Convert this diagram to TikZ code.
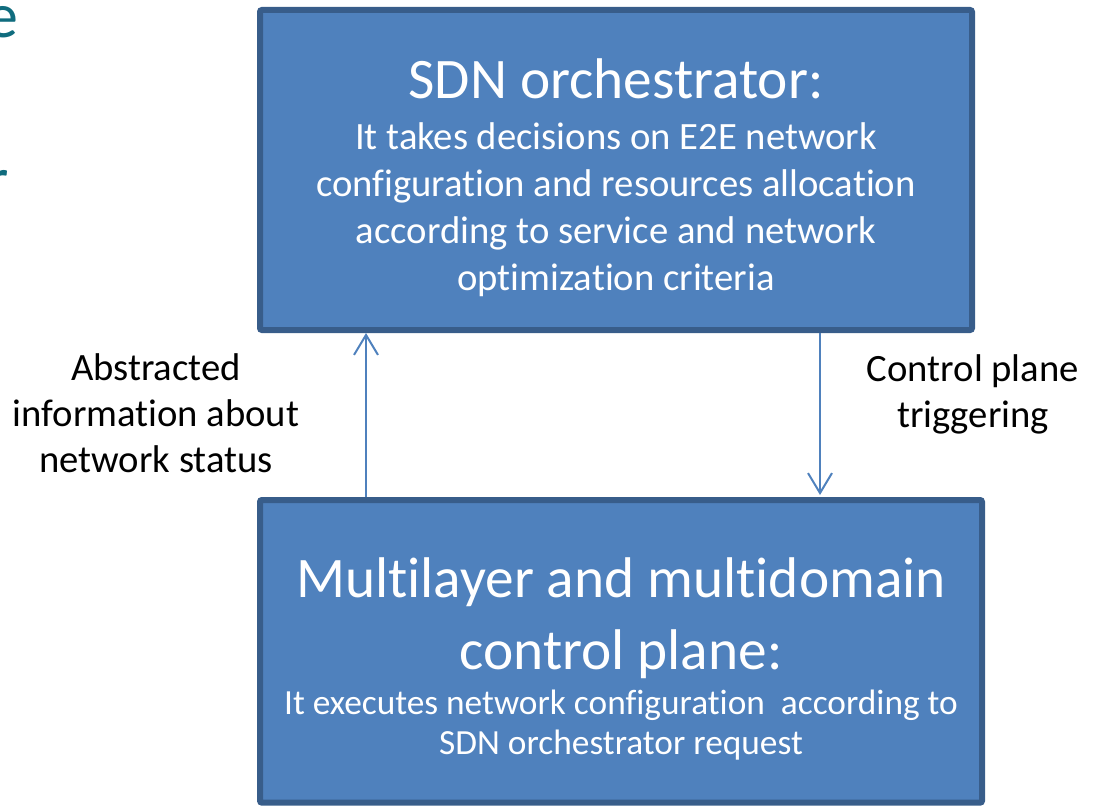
\documentclass[tikz,border=0pt]{standalone}
\usepackage{fontspec}
\setmainfont{Carlito}[RawFeature={-liga;-clig;-calt;-dlig}]
\usepackage{tikz}
\usetikzlibrary{arrows.meta,positioning}
\definecolor{myblue}{RGB}{79,129,189}
\definecolor{myborder}{RGB}{56,93,138}
\definecolor{myteal}{RGB}{16,108,126}

\begin{document}
\begin{tikzpicture}[
  x=0.75pt,
  y=-0.75pt,
  mybox/.style={
    draw=myborder,
    fill=myblue,
    line width=4.5pt,
    rounded corners=1.5pt,
    inner sep=0pt
    },
  mytext/.style={
    text=white,
    align=center,
    inner sep=0pt
    },
  mylink/.style={
    draw=myblue,
    line width=1.5pt,
    -{Straight Barb[length=15pt,width=18pt]}
    },
  mylabel/.style={
    align=center,
    font=\fontsize{29}{34.5}\selectfont
    }
]
\useasboundingbox (0,0) rectangle (1095,806);

% cut off slide text
\node[text=myteal, anchor=base west, inner sep=0pt, font=\fontsize{48}{58}\selectfont] (cute) at (-14,38) {e};
\node[text=myteal, anchor=base west, inner sep=0pt, font=\fontsize{48}{58}\selectfont] (cutr) at (-14,201) {r};

\node[mybox, minimum width=534pt, minimum height=240pt] (orch) at (616,170) {};
\node[mytext, font=\fontsize{29}{35.25}\selectfont] (orchtext) at ([yshift=-6pt]orch.center)
  {
  {\fontsize{43}{54}\selectfont SDN orchestrator:}\\[3pt]
  It takes decisions on E2E network\\
  configuration and resources allocation\\
  according to service and network\\
  optimization criteria
  };

\node[mybox, minimum width=541.5pt, minimum height=227pt, below=123pt of orch, xshift=3.75pt] (ctrl) {};
\node[mytext, font=\fontsize{43}{54}\selectfont] (ctrltext) at ([yshift=-5.5pt]ctrl.center)
  {
  Multilayer and multidomain\\
  control plane:\\[-20.3pt]
  {\fontsize{26.5}{30}\selectfont It executes network configuration\ \ according to}\\[-24pt]
  {\fontsize{26.5}{30}\selectfont SDN orchestrator request}
  };

\draw[mylink] ([xshift=81.75pt]ctrl.north west) -- ([xshift=81.75pt]orch.south west);
\draw[mylink] ([xshift=422.25pt]orch.south west) -- ([xshift=422.25pt,yshift=1.5pt]ctrl.north west);

\node[mylabel] (status) at (156,413) {Abstracted\\information about\\network status};
\node[mylabel] (trigger) at (973,394) {Control plane\\triggering};
\end{tikzpicture}
\end{document}
